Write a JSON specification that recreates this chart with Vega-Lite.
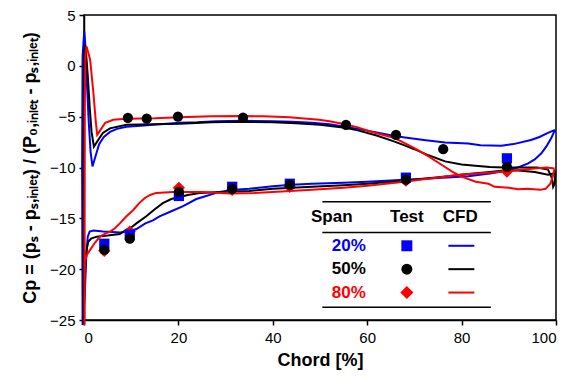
{
  "$schema": "https://vega.github.io/schema/vega-lite/v6.json",
  "width": 472,
  "height": 305,
  "autosize": {"type": "none"},
  "padding": {"left": 84, "top": 15, "right": 27, "bottom": 65},
  "background": "white",
  "config": {
    "view": {"stroke": "black", "strokeWidth": 1.5},
    "axis": {
      "grid": false,
      "domainColor": "black",
      "domainWidth": 1.5,
      "tickColor": "black",
      "tickSize": 5,
      "tickWidth": 1.5,
      "labelFont": "Liberation Sans",
      "labelFontSize": 15,
      "labelColor": "black",
      "titleFont": "Liberation Sans",
      "titleFontSize": 18,
      "titleFontWeight": "bold",
      "titleColor": "black"
    }
  },
  "datasets": {
    "cfd": [
      {"span":"20%","i":0,"x":99.8,"y":-6.3},{"span":"20%","i":1,"x":98.3,"y":-6.6},{"span":"20%","i":2,"x":96.5,"y":-7.0},{"span":"20%","i":3,"x":94.7,"y":-7.3},{"span":"20%","i":4,"x":91,"y":-7.7},{"span":"20%","i":5,"x":88.4,"y":-7.85},{"span":"20%","i":6,"x":84,"y":-7.8},{"span":"20%","i":7,"x":81.4,"y":-7.65},{"span":"20%","i":8,"x":76.5,"y":-7.55},{"span":"20%","i":9,"x":72,"y":-7.3},{"span":"20%","i":10,"x":68,"y":-7.05},{"span":"20%","i":11,"x":65.8,"y":-6.9},{"span":"20%","i":12,"x":62,"y":-6.55},{"span":"20%","i":13,"x":58,"y":-6.2},{"span":"20%","i":14,"x":55.3,"y":-6.0},{"span":"20%","i":15,"x":52,"y":-5.75},{"span":"20%","i":16,"x":48.3,"y":-5.6},{"span":"20%","i":17,"x":44,"y":-5.5},{"span":"20%","i":18,"x":40,"y":-5.45},{"span":"20%","i":19,"x":33.4,"y":-5.4},{"span":"20%","i":20,"x":28,"y":-5.45},{"span":"20%","i":21,"x":24,"y":-5.55},{"span":"20%","i":22,"x":20.3,"y":-5.6},{"span":"20%","i":23,"x":16,"y":-5.75},{"span":"20%","i":24,"x":12,"y":-5.9},{"span":"20%","i":25,"x":9,"y":-6.0},{"span":"20%","i":26,"x":7,"y":-6.2},{"span":"20%","i":27,"x":5.5,"y":-6.5},{"span":"20%","i":28,"x":4.2,"y":-7.0},{"span":"20%","i":29,"x":3.2,"y":-7.7},{"span":"20%","i":30,"x":2.5,"y":-8.8},{"span":"20%","i":31,"x":1.8,"y":-9.9},{"span":"20%","i":32,"x":1.4,"y":-8.5},{"span":"20%","i":33,"x":1.0,"y":-5.5},{"span":"20%","i":34,"x":0.6,"y":-1.5},{"span":"20%","i":35,"x":0.3,"y":2.0},{"span":"20%","i":36,"x":0.05,"y":3.4},{"span":"20%","i":37,"x":-0.3,"y":1.0},{"span":"20%","i":38,"x":-0.4,"y":-10},{"span":"20%","i":39,"x":-0.3,"y":-25.5},{"span":"20%","i":40,"x":0.2,"y":-22},{"span":"20%","i":41,"x":0.5,"y":-18.5},{"span":"20%","i":42,"x":0.8,"y":-16.8},{"span":"20%","i":43,"x":1.2,"y":-16.3},{"span":"20%","i":44,"x":2,"y":-16.2},{"span":"20%","i":45,"x":4,"y":-16.3},{"span":"20%","i":46,"x":6,"y":-16.35},{"span":"20%","i":47,"x":7.6,"y":-16.4},{"span":"20%","i":48,"x":9.5,"y":-16.3},{"span":"20%","i":49,"x":11.1,"y":-16.05},{"span":"20%","i":50,"x":13,"y":-15.5},{"span":"20%","i":51,"x":14.6,"y":-15.2},{"span":"20%","i":52,"x":16,"y":-14.8},{"span":"20%","i":53,"x":18.5,"y":-14.3},{"span":"20%","i":54,"x":21,"y":-13.8},{"span":"20%","i":55,"x":23.8,"y":-13.1},{"span":"20%","i":56,"x":25.2,"y":-12.9},{"span":"20%","i":57,"x":28.7,"y":-12.4},{"span":"20%","i":58,"x":32,"y":-12.2},{"span":"20%","i":59,"x":35,"y":-12.1},{"span":"20%","i":60,"x":40,"y":-11.85},{"span":"20%","i":61,"x":44,"y":-11.7},{"span":"20%","i":62,"x":48.3,"y":-11.6},{"span":"20%","i":63,"x":55,"y":-11.5},{"span":"20%","i":64,"x":60,"y":-11.4},{"span":"20%","i":65,"x":67.9,"y":-11.2},{"span":"20%","i":66,"x":72,"y":-11.1},{"span":"20%","i":67,"x":76,"y":-11.0},{"span":"20%","i":68,"x":81.4,"y":-10.85},{"span":"20%","i":69,"x":86,"y":-10.6},{"span":"20%","i":70,"x":88.5,"y":-10.4},{"span":"20%","i":71,"x":90.5,"y":-10.2},{"span":"20%","i":72,"x":92.5,"y":-9.9},{"span":"20%","i":73,"x":94.1,"y":-9.6},{"span":"20%","i":74,"x":95.5,"y":-9.2},{"span":"20%","i":75,"x":96.9,"y":-8.6},{"span":"20%","i":76,"x":98,"y":-7.9},{"span":"20%","i":77,"x":99,"y":-7.1},{"span":"20%","i":78,"x":99.8,"y":-6.3},

      {"span":"50%","i":0,"x":99.9,"y":-10.3},{"span":"50%","i":1,"x":99.7,"y":-11.6},{"span":"50%","i":2,"x":99.4,"y":-11.9},{"span":"50%","i":3,"x":99.1,"y":-11.0},{"span":"50%","i":4,"x":98.3,"y":-10.2},{"span":"50%","i":5,"x":96,"y":-10.0},{"span":"50%","i":6,"x":92,"y":-10.0},{"span":"50%","i":7,"x":89,"y":-10.0},{"span":"50%","i":8,"x":86,"y":-9.95},{"span":"50%","i":9,"x":83.5,"y":-9.85},{"span":"50%","i":10,"x":80,"y":-9.7},{"span":"50%","i":11,"x":76.5,"y":-9.4},{"span":"50%","i":12,"x":73,"y":-8.8},{"span":"50%","i":13,"x":70,"y":-8.2},{"span":"50%","i":14,"x":67.5,"y":-7.75},{"span":"50%","i":15,"x":65.8,"y":-7.45},{"span":"50%","i":16,"x":62,"y":-6.85},{"span":"50%","i":17,"x":58,"y":-6.35},{"span":"50%","i":18,"x":55.3,"y":-6.1},{"span":"50%","i":19,"x":50,"y":-5.8},{"span":"50%","i":20,"x":44.9,"y":-5.65},{"span":"50%","i":21,"x":40,"y":-5.55},{"span":"50%","i":22,"x":33.4,"y":-5.5},{"span":"50%","i":23,"x":27,"y":-5.55},{"span":"50%","i":24,"x":20.3,"y":-5.7},{"span":"50%","i":25,"x":15,"y":-5.75},{"span":"50%","i":26,"x":9,"y":-5.8},{"span":"50%","i":27,"x":5.5,"y":-6.15},{"span":"50%","i":28,"x":4,"y":-6.6},{"span":"50%","i":29,"x":3,"y":-7.3},{"span":"50%","i":30,"x":2.1,"y":-7.95},{"span":"50%","i":31,"x":1.6,"y":-6.5},{"span":"50%","i":32,"x":1.2,"y":-4},{"span":"50%","i":33,"x":0.8,"y":-1},{"span":"50%","i":34,"x":0.4,"y":1.5},{"span":"50%","i":35,"x":0.2,"y":2.05},{"span":"50%","i":36,"x":0.0,"y":1.0},{"span":"50%","i":37,"x":-0.1,"y":-10},{"span":"50%","i":38,"x":-0.1,"y":-25.5},{"span":"50%","i":39,"x":0.1,"y":-22},{"span":"50%","i":40,"x":0.3,"y":-19.5},{"span":"50%","i":41,"x":0.6,"y":-18},{"span":"50%","i":42,"x":0.9,"y":-17.3},{"span":"50%","i":43,"x":1.5,"y":-17.0},{"span":"50%","i":44,"x":2.7,"y":-16.8},{"span":"50%","i":45,"x":5,"y":-16.7},{"span":"50%","i":46,"x":7.6,"y":-16.55},{"span":"50%","i":47,"x":9,"y":-16.1},{"span":"50%","i":48,"x":10,"y":-15.9},{"span":"50%","i":49,"x":11.1,"y":-15.5},{"span":"50%","i":50,"x":13.2,"y":-14.8},{"span":"50%","i":51,"x":15,"y":-14.1},{"span":"50%","i":52,"x":16.7,"y":-13.5},{"span":"50%","i":53,"x":18.5,"y":-13.1},{"span":"50%","i":54,"x":20.3,"y":-12.9},{"span":"50%","i":55,"x":22,"y":-12.7},{"span":"50%","i":56,"x":24.5,"y":-12.5},{"span":"50%","i":57,"x":28.7,"y":-12.4},{"span":"50%","i":58,"x":35,"y":-12.3},{"span":"50%","i":59,"x":40,"y":-12.1},{"span":"50%","i":60,"x":48.3,"y":-11.9},{"span":"50%","i":61,"x":55,"y":-11.75},{"span":"50%","i":62,"x":60,"y":-11.6},{"span":"50%","i":63,"x":67.9,"y":-11.3},{"span":"50%","i":64,"x":72,"y":-11.1},{"span":"50%","i":65,"x":76,"y":-10.9},{"span":"50%","i":66,"x":81.4,"y":-10.65},{"span":"50%","i":67,"x":86,"y":-10.45},{"span":"50%","i":68,"x":89,"y":-10.3},{"span":"50%","i":69,"x":92,"y":-10.3},{"span":"50%","i":70,"x":95.5,"y":-10.45},{"span":"50%","i":71,"x":98.3,"y":-10.7},{"span":"50%","i":72,"x":99.5,"y":-10.6},{"span":"50%","i":73,"x":99.9,"y":-10.3},

      {"span":"80%","i":0,"x":99.7,"y":-10.1},{"span":"80%","i":1,"x":99.3,"y":-10.9},{"span":"80%","i":2,"x":98.8,"y":-11.6},{"span":"80%","i":3,"x":97.8,"y":-12.1},{"span":"80%","i":4,"x":96.6,"y":-12.2},{"span":"80%","i":5,"x":94,"y":-12.1},{"span":"80%","i":6,"x":92,"y":-12.15},{"span":"80%","i":7,"x":90,"y":-12.0},{"span":"80%","i":8,"x":87,"y":-11.9},{"span":"80%","i":9,"x":85.7,"y":-11.6},{"span":"80%","i":10,"x":83,"y":-11.4},{"span":"80%","i":11,"x":80,"y":-10.9},{"span":"80%","i":12,"x":78,"y":-10.4},{"span":"80%","i":13,"x":76,"y":-9.8},{"span":"80%","i":14,"x":73,"y":-8.9},{"span":"80%","i":15,"x":70,"y":-8.1},{"span":"80%","i":16,"x":67.5,"y":-7.5},{"span":"80%","i":17,"x":65.8,"y":-7.1},{"span":"80%","i":18,"x":63,"y":-6.75},{"span":"80%","i":19,"x":61,"y":-6.5},{"span":"80%","i":20,"x":58,"y":-6.05},{"span":"80%","i":21,"x":55.3,"y":-5.75},{"span":"80%","i":22,"x":52,"y":-5.45},{"span":"80%","i":23,"x":49.8,"y":-5.3},{"span":"80%","i":24,"x":46,"y":-5.15},{"span":"80%","i":25,"x":43.5,"y":-5.05},{"span":"80%","i":26,"x":38,"y":-4.97},{"span":"80%","i":27,"x":33.4,"y":-4.93},{"span":"80%","i":28,"x":27,"y":-4.97},{"span":"80%","i":29,"x":20.3,"y":-5.05},{"span":"80%","i":30,"x":15,"y":-5.15},{"span":"80%","i":31,"x":9,"y":-5.2},{"span":"80%","i":32,"x":6.2,"y":-5.3},{"span":"80%","i":33,"x":4.5,"y":-5.6},{"span":"80%","i":34,"x":3.5,"y":-6.3},{"span":"80%","i":35,"x":2.8,"y":-6.8},{"span":"80%","i":36,"x":2.5,"y":-5.5},{"span":"80%","i":37,"x":2.0,"y":-2.7},{"span":"80%","i":38,"x":1.3,"y":0.6},{"span":"80%","i":39,"x":0.55,"y":1.9},{"span":"80%","i":40,"x":0.3,"y":1.0},{"span":"80%","i":41,"x":0.15,"y":-5},{"span":"80%","i":42,"x":0.1,"y":-15},{"span":"80%","i":43,"x":0.1,"y":-25.5},{"span":"80%","i":44,"x":0.15,"y":-21},{"span":"80%","i":45,"x":0.2,"y":-19.3},{"span":"80%","i":46,"x":0.6,"y":-18.6},{"span":"80%","i":47,"x":1.3,"y":-18.1},{"span":"80%","i":48,"x":2.3,"y":-17.4},{"span":"80%","i":49,"x":3.4,"y":-16.8},{"span":"80%","i":50,"x":4.5,"y":-16.5},{"span":"80%","i":51,"x":5.5,"y":-16.3},{"span":"80%","i":52,"x":6.5,"y":-16.0},{"span":"80%","i":53,"x":7.6,"y":-15.5},{"span":"80%","i":54,"x":9,"y":-14.8},{"span":"80%","i":55,"x":10.4,"y":-14.2},{"span":"80%","i":56,"x":11.7,"y":-13.5},{"span":"80%","i":57,"x":12.9,"y":-13.0},{"span":"80%","i":58,"x":14,"y":-12.7},{"span":"80%","i":59,"x":15.3,"y":-12.5},{"span":"80%","i":60,"x":18.8,"y":-12.4},{"span":"80%","i":61,"x":25.1,"y":-12.4},{"span":"80%","i":62,"x":31,"y":-12.55},{"span":"80%","i":63,"x":36,"y":-12.5},{"span":"80%","i":64,"x":40,"y":-12.4},{"span":"80%","i":65,"x":48.3,"y":-12.2},{"span":"80%","i":66,"x":55,"y":-12.0},{"span":"80%","i":67,"x":60,"y":-11.8},{"span":"80%","i":68,"x":67.9,"y":-11.4},{"span":"80%","i":69,"x":72,"y":-11.15},{"span":"80%","i":70,"x":76.5,"y":-10.9},{"span":"80%","i":71,"x":80,"y":-10.7},{"span":"80%","i":72,"x":85,"y":-10.55},{"span":"80%","i":73,"x":89.2,"y":-10.4},{"span":"80%","i":74,"x":92,"y":-10.25},{"span":"80%","i":75,"x":95.5,"y":-10.1},{"span":"80%","i":76,"x":98,"y":-10.0},{"span":"80%","i":77,"x":99.7,"y":-10.1}
    ],
    "test": [
      {"span":"80%","x":4.3,"y":-18.2},{"span":"80%","x":9.7,"y":-16.3},{"span":"80%","x":20.1,"y":-12.0},{"span":"80%","x":31.4,"y":-12.2},{"span":"80%","x":43.6,"y":-11.9},{"span":"80%","x":68.2,"y":-11.3},{"span":"80%","x":89.6,"y":-10.4},
      {"span":"20%","x":4.3,"y":-17.5},{"span":"20%","x":9.7,"y":-16.6},{"span":"20%","x":20.1,"y":-12.8},{"span":"20%","x":31.4,"y":-11.9},{"span":"20%","x":43.6,"y":-11.6},{"span":"20%","x":68.2,"y":-11.0},{"span":"20%","x":89.6,"y":-9.1},
      {"span":"50%","x":9.3,"y":-5.13},{"span":"50%","x":13.3,"y":-5.2},{"span":"50%","x":19.9,"y":-5.0},{"span":"50%","x":33.7,"y":-5.1},{"span":"50%","x":55.5,"y":-5.8},{"span":"50%","x":66.1,"y":-6.8},{"span":"50%","x":76.1,"y":-8.2},{"span":"50%","x":89.6,"y":-9.95},
      {"span":"50%","x":4.3,"y":-18.1},{"span":"50%","x":9.7,"y":-17.0},{"span":"50%","x":20.1,"y":-12.4},{"span":"50%","x":31.4,"y":-12.1},{"span":"50%","x":43.6,"y":-11.7},{"span":"50%","x":68.2,"y":-11.2}
    ],
    "legrules": [
      {"x":50.5,"x2":86.2,"y":-13.36},{"x":50.5,"x2":86.2,"y":-16.4},{"x":50.5,"x2":86.2,"y":-23.74}
    ],
    "leghead": [
      {"label":"Span","x":52.5,"y":-14.83,"al":"left"},{"label":"Test","x":68.4,"y":-14.83,"al":"center"},{"label":"CFD","x":79.7,"y":-14.83,"al":"center"}
    ],
    "legrows": [
      {"span":"20%","tx":52.5,"mx":68.4,"lx1":77.2,"lx2":82.7,"y":-17.7},
      {"span":"50%","tx":52.5,"mx":68.4,"lx1":77.2,"lx2":82.7,"y":-20.0},
      {"span":"80%","tx":52.5,"mx":68.4,"lx1":77.2,"lx2":82.7,"y":-22.3}
    ]
  },
  "encoding": {
    "x": {"type": "quantitative", "scale": {"domain": [0, 100], "nice": false, "zero": false}},
    "y": {"type": "quantitative", "scale": {"domain": [-25, 5], "nice": false, "zero": false}}
  },
  "layer": [
    {
      "data": {"name": "cfd"},
      "mark": {"type": "line", "strokeWidth": 2, "clip": false},
      "encoding": {
        "x": {"field": "x", "type": "quantitative", "axis": {"values": [0, 20, 40, 60, 80, 100], "title": "Chord [%]", "labelPadding": 5, "titlePadding": 6}},
        "y": {"field": "y", "type": "quantitative", "axis": {"values": [-25, -20, -15, -10, -5, 0, 5], "title": "Cp = (pₛ - pₛ,ᵢₙₗₑₜ) / (P₀,ᵢₙₗₑₜ - pₛ,ᵢₙₗₑₜ)", "titleFontSize": 18, "labelPadding": 4, "titlePadding": 10}},
        "color": {"field": "span", "type": "nominal", "scale": {"domain": ["20%", "50%", "80%"], "range": ["#0000ff", "#000000", "#ff0000"]}, "legend": null},
        "order": {"field": "i", "type": "quantitative"}
      }
    },
    {
      "data": {"name": "test"},
      "mark": {"type": "point", "filled": true, "opacity": 1, "size": 105},
      "encoding": {
        "x": {"field": "x", "type": "quantitative"},
        "y": {"field": "y", "type": "quantitative"},
        "color": {"field": "span", "type": "nominal", "legend": null},
        "shape": {"field": "span", "type": "nominal", "scale": {"domain": ["20%", "50%", "80%"], "range": ["square", "circle", "M-1.2,0L0,-1.2L1.2,0L0,1.2Z"]}, "legend": null}
      }
    },
    {
      "data": {"name": "legrules"},
      "mark": {"type": "rule", "color": "black", "strokeWidth": 1.5},
      "encoding": {
        "x": {"field": "x", "type": "quantitative"},
        "x2": {"field": "x2"},
        "y": {"field": "y", "type": "quantitative"}
      }
    },
    {
      "data": {"name": "leghead"},
      "mark": {"type": "text", "font": "Liberation Sans", "fontSize": 17, "fontWeight": "bold", "color": "black", "baseline": "middle"},
      "encoding": {
        "x": {"field": "x", "type": "quantitative"},
        "y": {"field": "y", "type": "quantitative"},
        "text": {"field": "label"},
        "align": {"field": "al", "type": "nominal", "scale": null}
      }
    },
    {
      "data": {"name": "legrows"},
      "mark": {"type": "text", "font": "Liberation Sans", "fontSize": 17, "fontWeight": "bold", "align": "left", "baseline": "middle"},
      "encoding": {
        "x": {"field": "tx", "type": "quantitative"},
        "y": {"field": "y", "type": "quantitative"},
        "text": {"field": "span"},
        "color": {"field": "span", "type": "nominal", "legend": null}
      }
    },
    {
      "data": {"name": "legrows"},
      "mark": {"type": "point", "filled": true, "opacity": 1, "size": 120},
      "encoding": {
        "x": {"field": "mx", "type": "quantitative"},
        "y": {"field": "y", "type": "quantitative"},
        "color": {"field": "span", "type": "nominal", "legend": null},
        "shape": {"field": "span", "type": "nominal", "legend": null}
      }
    },
    {
      "data": {"name": "legrows"},
      "mark": {"type": "rule", "strokeWidth": 2},
      "encoding": {
        "x": {"field": "lx1", "type": "quantitative"},
        "x2": {"field": "lx2"},
        "y": {"field": "y", "type": "quantitative"},
        "color": {"field": "span", "type": "nominal", "legend": null}
      }
    }
  ]
}
